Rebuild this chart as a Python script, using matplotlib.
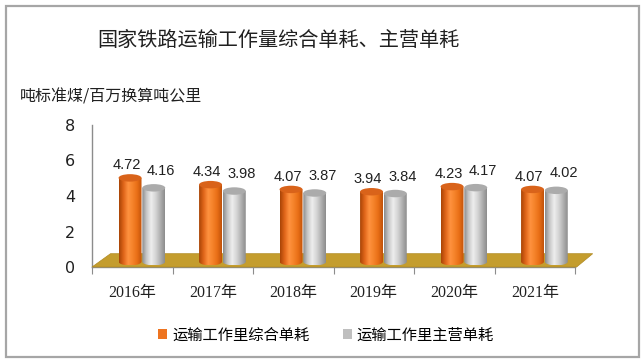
import numpy as np
import matplotlib
matplotlib.use('Agg')
import matplotlib.pyplot as plt
from matplotlib.colors import LinearSegmentedColormap
from matplotlib.patches import Ellipse, Polygon, Rectangle, Patch

plt.rcParams['font.family'] = ['Noto Sans CJK SC', 'DejaVu Sans']

years = ['2016年', '2017年', '2018年', '2019年', '2020年', '2021年']
zonghe = [4.72, 4.34, 4.07, 3.94, 4.23, 4.07]
zhuying = [4.16, 3.98, 3.87, 3.84, 4.17, 4.02]
series_names = ['运输工作里综合单耗', '运输工作里主营单耗']
title = '国家铁路运输工作量综合单耗、主营单耗'
unit = '吨标准煤/百万换算吨公里'

W, H = 643, 363
fig = plt.figure(figsize=(W / 100, H / 100), dpi=100)
fig.patch.set_facecolor('white')
fig.patches.append(Rectangle((6 / W, 6 / H), 633 / W, 351 / H, transform=fig.transFigure,
                             fill=False, edgecolor='#a6a6a6', lw=1.6))

ax = fig.add_axes([92 / W, (H - 267) / H, 483 / W, 142 / H])
ax.set_facecolor('none')

# floor of the 3D chart
dx, dy = 0.23, 0.75
n = len(years)
floor = Polygon([(0, 0), (n + 0.02, 0), (n + 0.22, dy), (dx, dy)], closed=True,
                facecolor='#c49d2e', edgecolor='#b08a22', lw=0.5, zorder=1, clip_on=False)
ax.add_patch(floor)

orange_cols = ['#a84406', '#e0661a', '#ff9240', '#f5832a', '#e86e16', '#c0520a']
gray_cols = ['#8a8a8a', '#c8c8c8', '#eeeeee', '#d4d4d4', '#b0b0b0', '#8c8c8c']
cm_o = LinearSegmentedColormap.from_list('o', orange_cols)
cm_g = LinearSegmentedColormap.from_list('g', gray_cols)

bw = 0.285
eh = 0.42
base = 0.3
grad = np.linspace(0, 1, 128)[None, :]


def cylinder(xc, val, cmap, topcolor):
    top = base + val
    im = ax.imshow(grad, cmap=cmap, extent=(xc - bw / 2, xc + bw / 2, base - eh / 2, top),
                   aspect='auto', zorder=3, interpolation='bilinear')
    t = np.linspace(np.pi, 2 * np.pi, 40)
    pts = list(zip(xc + bw / 2 * np.cos(t), base + eh / 2 * np.sin(t)))
    pts += [(xc + bw / 2, top), (xc - bw / 2, top)]
    clip = Polygon(pts, closed=True, transform=ax.transData)
    im.set_clip_path(clip)
    ax.add_patch(Ellipse((xc, top), bw, eh, facecolor=topcolor, edgecolor='none', zorder=4))


for i in range(n):
    c = i + 0.5 + dx / 2
    cylinder(c - bw / 2, zonghe[i], cm_o, '#d9631a')
    cylinder(c + bw / 2 + 0.01, zhuying[i], cm_g, '#ababab')
    ax.text(i + 0.43, zonghe[i] + 1.0, f'{zonghe[i]:.2f}', ha='center', va='center',
            fontsize=10.5, family='Liberation Sans', color='#202020', zorder=5)
    ax.text(i + 0.86, zhuying[i] + 1.25, f'{zhuying[i]:.2f}', ha='center', va='center',
            fontsize=10.5, family='Liberation Sans', color='#202020', zorder=5)

ax.set_xlim(0, n)
ax.set_ylim(0, 8)
for s in ['top', 'right']:
    ax.spines[s].set_visible(False)
for s in ['left', 'bottom']:
    ax.spines[s].set_color('#8c8c8c')
    ax.spines[s].set_linewidth(1.0)
    ax.spines[s].set_zorder(0.5)

ax.set_yticks([0, 2, 4, 6, 8])
ax.set_yticklabels(['0', '2', '4', '6', '8'], fontsize=11.5, family='DejaVu Sans')
ax.tick_params(axis='y', length=0, pad=12, labelcolor='#202020')

ax.set_xticks(np.arange(n + 1))
ax.set_xticklabels([])
ax.tick_params(axis='x', which='major', length=5, color='#8c8c8c', direction='out')
ax.set_xticks(np.arange(n) + 0.5, minor=True)
ax.set_xticklabels(years, minor=True, fontsize=11.5,
                   family=['Liberation Serif', 'Noto Sans CJK SC'])
ax.tick_params(axis='x', which='minor', length=0, pad=13, labelcolor='#202020')

fig.text(278 / W, 1 - 40 / H, title, ha='center', va='center', fontsize=14.5, color='#202020')
fig.text(20 / W, 1 - 97 / H, unit, ha='left', va='center', fontsize=11.5, color='#202020')

handles = [Patch(facecolor='#ee7420'), Patch(facecolor='#bfbfbf')]
fig.legend(handles, series_names, loc='center', bbox_to_anchor=(326 / W, 1 - 335 / H),
           ncol=2, frameon=False, fontsize=11, handlelength=0.6, handleheight=0.6,
           handletextpad=0.3, columnspacing=2.2)

fig.savefig('out.png', dpi=100)
